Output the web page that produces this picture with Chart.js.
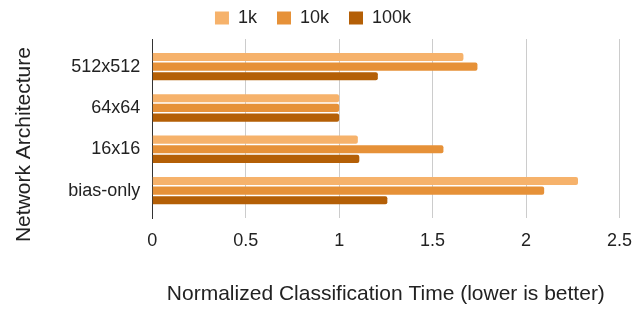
<!DOCTYPE html>
<html>
<head>
<meta charset="utf-8">
<script src="https://cdn.jsdelivr.net/npm/chart.js@4/dist/chart.umd.min.js"></script>
<style>
  html, body { margin: 0; padding: 0; background: #fff; }
  #wrap { width: 644px; height: 309px; }
</style>
</head>
<body>
<div id="wrap"><canvas id="chart" width="644" height="309"></canvas></div>
<script>
const categories = ['512x512', '64x64', '16x16', 'bias-only'];
const series1k = [1.665, 1.0, 1.10, 2.278];
const series10k = [1.74, 1.0, 1.558, 2.097];
const series100k = [1.207, 1.0, 1.108, 1.258];
const xTicks = [0, 0.5, 1, 1.5, 2, 2.5];

Chart.defaults.font.family = 'Arial, "Liberation Sans", sans-serif';
Chart.defaults.color = '#222';

// bars sit on a numeric index axis so the category bands can be spaced like the original
const makeSet = (label, values, color) => ({
    label,
    data: values.map((v, i) => ({ x: v, y: i })),
    backgroundColor: color,
    borderWidth: 0,
    borderRadius: 2,
    borderSkipped: 'start',
    barPercentage: 0.84,
    categoryPercentage: 0.7,
});

// legend: a bit of extra room below and nudged left; y title sits lower than centre
const layoutTweaks = {
    id: 'layoutTweaks',
    beforeInit(chart) {
        const fit = chart.legend.fit;
        chart.legend.fit = function () {
            fit.call(this);
            this.height += 2;
        };
    },
    afterLayout(chart) {
        chart.legend.left -= 8;
        chart.legend.right -= 8;
        const y = chart.scales.y;
        if (!y._titleShifted) {
            const drawTitle = y.drawTitle;
            y.drawTitle = function () {
                this.ctx.save();
                this.ctx.translate(0, 16);
                drawTitle.call(this);
                this.ctx.restore();
            };
            y._titleShifted = true;
        }
    },
};

new Chart(document.getElementById('chart').getContext('2d'), {
    type: 'bar',
    data: {
        datasets: [
            makeSet('1k', series1k, '#f6b26b'),
            makeSet('10k', series10k, '#e69138'),
            makeSet('100k', series100k, '#b45f06'),
        ],
    },
    options: {
        indexAxis: 'y',
        responsive: false,
        animation: false,
        layout: { padding: { left: 12, right: 14, top: -11, bottom: 0 } },
        plugins: {
            legend: {
                position: 'top',
                labels: {
                    boxWidth: 14,
                    boxHeight: 13,
                    padding: 20,
                    font: { size: 18 },
                    color: '#222',
                },
            },
            tooltip: { enabled: false },
        },
        scales: {
            x: {
                type: 'linear',
                min: 0,
                max: 2.5,
                afterBuildTicks: (axis) => {
                    axis.ticks = xTicks.map(v => ({ value: v }));
                },
                grid: { color: '#cccccc', drawTicks: false },
                border: { display: false },
                ticks: {
                    font: { size: 18 },
                    color: '#222',
                    padding: 12,
                    callback: (v) => String(v),
                },
                title: {
                    display: true,
                    text: 'Normalized Classification Time (lower is better)',
                    font: { size: 21 },
                    color: '#222',
                    padding: { top: 18, bottom: 2 },
                },
            },
            y: {
                type: 'linear',
                reverse: true,
                offset: false,
                min: -0.667,
                max: categories.length - 1 + 0.667,
                afterBuildTicks: (axis) => {
                    axis.ticks = categories.map((c, i) => ({ value: i }));
                },
                grid: { display: false, drawTicks: false, offset: false },
                border: { display: true, color: '#333', width: 1 },
                ticks: {
                    font: { size: 18 },
                    color: '#222',
                    padding: 12,
                    callback: (v) => categories[v],
                },
                title: {
                    display: true,
                    text: 'Network Architecture',
                    font: { size: 21 },
                    color: '#222',
                    padding: { top: 0, bottom: 19 },
                },
            },
        },
    },
    plugins: [layoutTweaks],
});
</script>
</body>
</html>
